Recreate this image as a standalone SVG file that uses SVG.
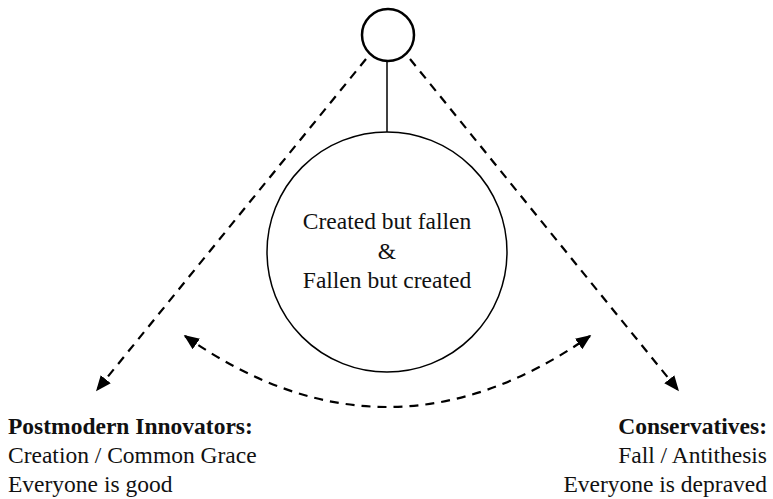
<svg xmlns="http://www.w3.org/2000/svg" width="773" height="499" viewBox="0 0 773 499">
  <style>
    .shape { fill: #fff; stroke: #000; }
    .link { fill: none; stroke: #000; stroke-width: 2.2; stroke-dasharray: 9 7; }
    .txt { font-family: "Liberation Serif", "DejaVu Serif", serif; font-size: 23.5px; fill: #111; }
    .bold { font-weight: bold; }
  </style>
  <defs>
    <marker id="arrow" viewBox="0 0 10 10" refX="9" refY="5" markerWidth="7" markerHeight="7" orient="auto-start-reverse" markerUnits="strokeWidth">
      <path d="M0,0.8 L10,5 L0,9.2 z" fill="#000"/>
    </marker>
  </defs>

  <g id="connectors">
    <line x1="387" y1="61" x2="387" y2="133" stroke="#000" stroke-width="1.5"/>
    <path class="link" d="M366,59 L97,390" marker-end="url(#arrow)"/>
    <path class="link" d="M410,59 L678,390" marker-end="url(#arrow)"/>
    <path class="link" d="M185,336 Q387,478 590,336" marker-start="url(#arrow)" marker-end="url(#arrow)"/>
  </g>

  <g id="top">
    <circle class="shape" cx="388" cy="35" r="26" stroke-width="2.5"/>
  </g>

  <g id="center">
    <circle class="shape" cx="387" cy="252" r="120" stroke-width="1.5"/>
    <text class="txt" x="387" y="229" text-anchor="middle">Created but fallen</text>
    <text class="txt" x="387" y="259" text-anchor="middle">&amp;</text>
    <text class="txt" x="387" y="288" text-anchor="middle">Fallen but created</text>
  </g>

  <g id="innovators">
    <text class="txt bold" x="8" y="434">Postmodern Innovators:</text>
    <text class="txt" x="8" y="463">Creation / Common Grace</text>
    <text class="txt" x="8" y="492">Everyone is good</text>
  </g>

  <g id="conservatives">
    <text class="txt bold" x="767" y="434" text-anchor="end">Conservatives:</text>
    <text class="txt" x="767" y="463" text-anchor="end">Fall / Antithesis</text>
    <text class="txt" x="767" y="492" text-anchor="end">Everyone is depraved</text>
  </g>
</svg>
